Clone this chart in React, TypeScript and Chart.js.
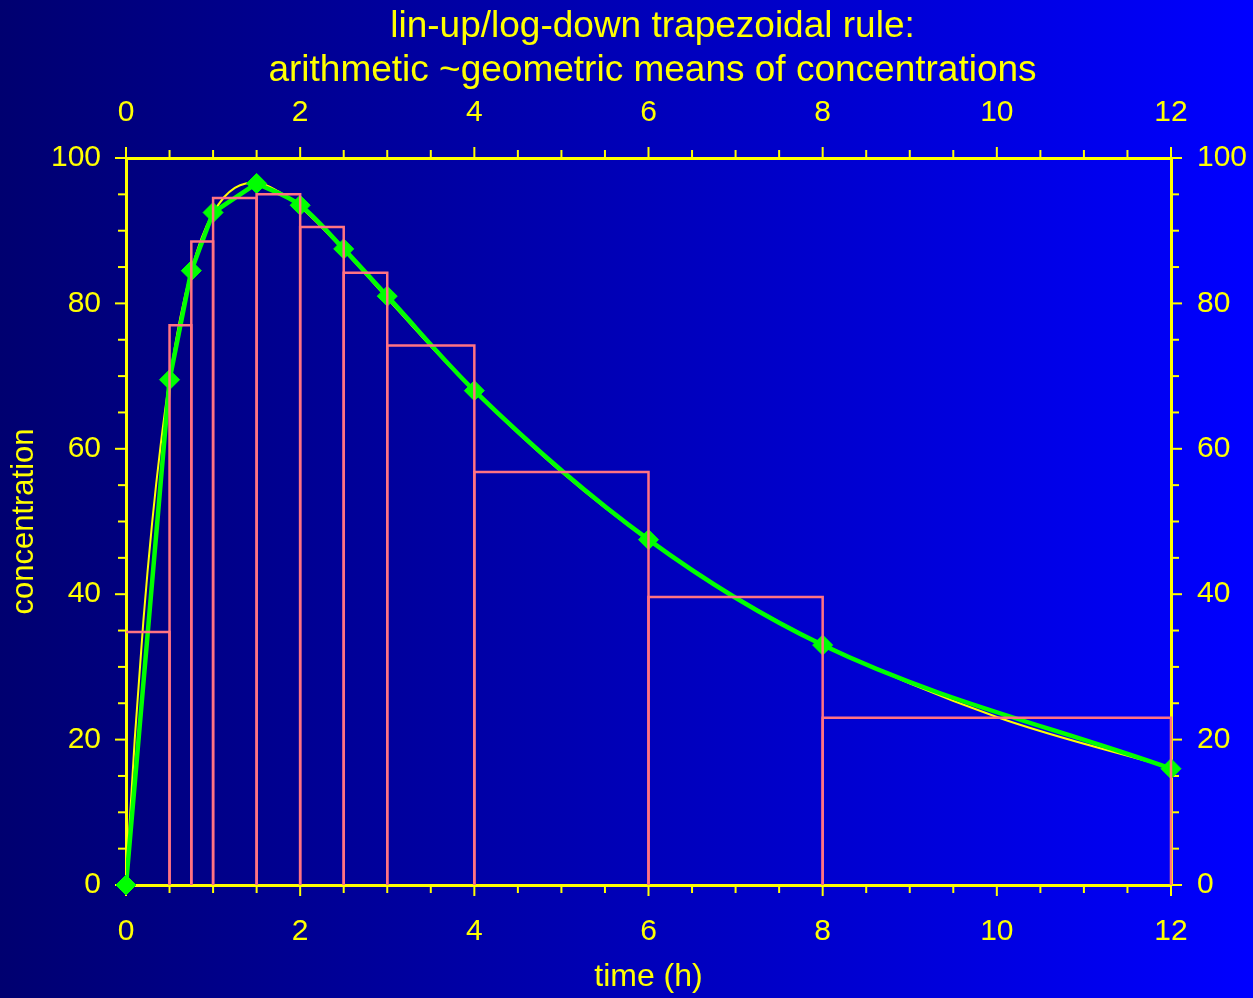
import React, { useEffect, useRef } from 'react';
import { Chart, registerables } from 'chart.js';

Chart.register(...registerables);

// Sampling times (h) and measured concentrations
const timeH = [0, 0.5, 0.75, 1, 1.5, 2, 2.5, 3, 4, 6, 8, 12];
const concentration = [0, 69.5, 84.5, 92.5, 96.5, 93.5, 87.5, 81, 68, 47.5, 33, 16];

// Mean concentration over each sampling interval (arithmetic while rising, geometric while falling)
const intervalMeans = [34.8, 77.0, 88.5, 94.5, 95.0, 90.5, 84.2, 74.2, 56.8, 39.6, 23.0];

// Underlying concentration–time profile
const modelTime = [0, 0.1, 0.2, 0.3, 0.4, 0.5, 0.625, 0.75, 0.875, 1, 1.125, 1.25, 1.375, 1.5, 1.75, 2, 2.5, 3, 3.5, 4, 5, 6, 7, 8, 10, 12];
const modelConc = [0, 20.0, 36.4, 49.8, 60.7, 69.5, 78.1, 84.5, 89.2, 92.4, 94.6, 95.9, 96.5, 96.6, 95.4, 93.3, 87.3, 80.7, 74.1, 67.9, 56.8, 47.4, 39.6, 33.1, 23.1, 16.1];

const titleLines = ['lin-up/log-down trapezoidal rule:', 'arithmetic ~geometric means of concentrations'];
const xAxisTitle = 'time (h)';
const yAxisTitle = 'concentration';

const FONT = '"Liberation Sans", Arial, Helvetica, sans-serif';
const YELLOW = '#ffff00';
const GREEN = '#00ff00';
const PINK = '#ff7383';

const pts = (xs: number[], ys: number[]) => xs.map((x, i) => ({ x, y: ys[i] }));

const titlePlugin = {
  id: 'twoLineTitle',
  afterDraw(chart: any) {
    const { ctx, chartArea } = chart;
    ctx.save();
    ctx.fillStyle = YELLOW;
    ctx.font = `37px ${FONT}`;
    ctx.textAlign = 'center';
    ctx.textBaseline = 'alphabetic';
    const cx = (chartArea.left + chartArea.right) / 2 + 4;
    ctx.fillText(titleLines[0], cx, 37);
    ctx.fillText(titleLines[1], cx, 81);
    ctx.restore();
  },
};

// Outward tick marks: long at labelled values, short in between
const tickMarkPlugin = {
  id: 'tickMarks',
  beforeDatasetsDraw(chart: any) {
    const ctx = chart.ctx;
    ctx.save();
    ctx.strokeStyle = YELLOW;
    ctx.lineWidth = 2;
    for (const id of ['x', 'x2', 'y', 'y2']) {
      const s = chart.scales[id];
      s.ticks.forEach((t: any) => {
        const major = id.startsWith('x') ? t.value % 2 === 0 : t.value % 20 === 0;
        const len = major ? 11 : 8;
        const p = s.getPixelForValue(t.value);
        ctx.beginPath();
        if (id === 'x') { ctx.moveTo(p, s.top); ctx.lineTo(p, s.top + len); }
        if (id === 'x2') { ctx.moveTo(p, s.bottom); ctx.lineTo(p, s.bottom - len); }
        if (id === 'y') { ctx.moveTo(s.right, p); ctx.lineTo(s.right - len, p); }
        if (id === 'y2') { ctx.moveTo(s.left, p); ctx.lineTo(s.left + len, p); }
        ctx.stroke();
      });
    }
    ctx.restore();
  },
};

export default function App() {
  const canvasRef = useRef<HTMLCanvasElement>(null);

  useEffect(() => {
    const canvas = canvasRef.current;
    if (!canvas) return;

    const peak = concentration.indexOf(Math.max(...concentration));
    const rising = pts(timeH.slice(0, peak + 1), concentration.slice(0, peak + 1));
    const falling = pts(timeH.slice(peak), concentration.slice(peak));

    const intervalBoxes = intervalMeans.map((h, i) => ({
      label: `interval ${i + 1}`,
      data: [
        ...(i === 0 ? [] : [{ x: timeH[i], y: 0 }]),
        { x: timeH[i], y: h },
        { x: timeH[i + 1], y: h },
        { x: timeH[i + 1], y: 0 },
      ],
      borderColor: PINK,
      borderWidth: 2.5,
      pointRadius: 0,
      showLine: true,
      tension: 0,
      fill: false,
      clip: false as any,
      order: 0,
    }));

    const tickFont = { family: FONT, size: 30 };
    const xTicks = {
      color: YELLOW,
      font: tickFont,
      stepSize: 0.5,
      autoSkip: false,
      maxRotation: 0,
      callback: (v: any) => (Number(v) % 2 === 0 ? String(v) : ''),
    };
    const yTicks = {
      color: YELLOW,
      font: tickFont,
      stepSize: 5,
      autoSkip: false,
      callback: (v: any) => (Number(v) % 20 === 0 ? String(v) : ''),
    };
    const border = { display: true, color: YELLOW, width: 3 };

    const chart = new Chart(canvas, {
      type: 'scatter',
      data: {
        datasets: [
          ...intervalBoxes,
          {
            label: 'observed',
            data: pts(timeH, concentration),
            showLine: false,
            pointStyle: 'rectRot',
            pointRadius: 10,
            pointBorderWidth: 1,
            pointBackgroundColor: GREEN,
            pointBorderColor: GREEN,
            clip: false as any,
            order: 1,
          },
          {
            label: 'linear up',
            data: rising,
            showLine: true,
            borderColor: GREEN,
            borderWidth: 4.5,
            pointRadius: 0,
            tension: 0,
            order: 2,
          },
          {
            label: 'log down',
            data: falling,
            showLine: true,
            borderColor: GREEN,
            borderWidth: 4.5,
            pointRadius: 0,
            cubicInterpolationMode: 'monotone',
            order: 2,
          },
          {
            label: 'profile',
            data: pts(modelTime, modelConc),
            showLine: true,
            borderColor: YELLOW,
            borderWidth: 2,
            pointRadius: 0,
            cubicInterpolationMode: 'monotone',
            order: 3,
          },
        ] as any,
      },
      options: {
        animation: false,
        responsive: false,
        devicePixelRatio: 1,
        layout: { padding: 0 },
        plugins: {
          legend: { display: false },
          tooltip: { enabled: false },
          title: { display: false },
        },
        scales: {
          x: {
            type: 'linear',
            position: 'bottom',
            min: 0,
            max: 12,
            grid: { display: false },
            border,
            ticks: { ...xTicks, padding: 21 },
            title: { display: true, text: xAxisTitle, color: YELLOW, font: { family: FONT, size: 32 }, padding: { top: 0, bottom: 2 } },
            afterFit: (s: any) => { s.height = 113; },
          },
          x2: {
            type: 'linear',
            position: 'top',
            min: 0,
            max: 12,
            grid: { display: false },
            border,
            ticks: { ...xTicks, padding: 19 },
            afterFit: (s: any) => { s.height = 158; },
          },
          y: {
            type: 'linear',
            position: 'left',
            min: 0,
            max: 100,
            grid: { display: false },
            border,
            ticks: { ...yTicks, padding: 17 },
            title: { display: true, text: yAxisTitle, color: YELLOW, font: { family: FONT, size: 31 }, padding: { top: 6, bottom: 0 } },
            afterFit: (s: any) => { s.width = 126; },
          },
          y2: {
            type: 'linear',
            position: 'right',
            min: 0,
            max: 100,
            grid: { display: false },
            border,
            ticks: { ...yTicks, padding: 18 },
            afterFit: (s: any) => { s.width = 82; },
          },
        },
      } as any,
      plugins: [titlePlugin, tickMarkPlugin],
    });

    return () => chart.destroy();
  }, []);

  return (
    <div
      style={{
        position: 'fixed',
        left: 0,
        top: 0,
        width: 1253,
        height: 998,
        background: 'linear-gradient(to right, #000070, #0000ff)',
      }}
    >
      <canvas ref={canvasRef} width={1253} height={998} style={{ display: 'block' }} />
    </div>
  );
}
